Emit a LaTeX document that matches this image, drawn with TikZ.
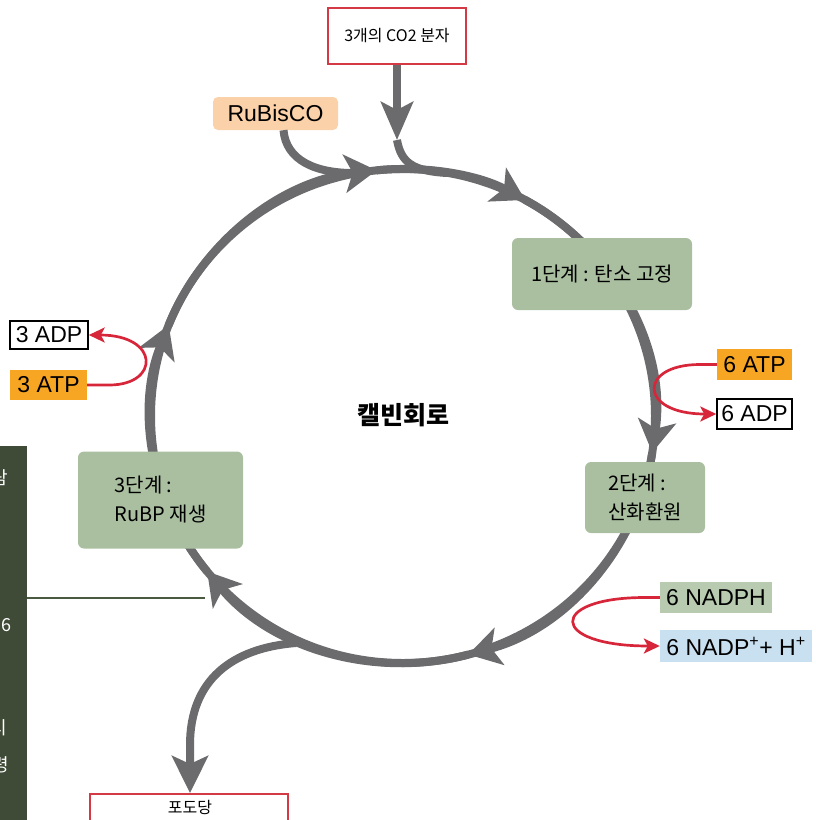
\documentclass[tikz,border=0pt]{standalone}
\usepackage{fontspec}
\setmainfont{Liberation Sans}
\newfontfamily\kr{Noto Sans CJK KR}
\usetikzlibrary{arrows.meta}
\definecolor{cyc}{HTML}{6B6B6E}
\definecolor{stage}{HTML}{A9BFA0}
\definecolor{rd}{HTML}{D7263A}
\definecolor{boxred}{HTML}{D33A45}
\definecolor{atp}{HTML}{F7A623}
\definecolor{peach}{HTML}{FBD1A9}
\definecolor{nadph}{HTML}{B8CAB0}
\definecolor{nadp}{HTML}{C9E0F0}
\definecolor{panel}{HTML}{3F4A37}
\definecolor{panelline}{HTML}{4A5A40}
\begin{document}
\begin{tikzpicture}[x=1pt,y=-1pt,
  cycline/.style={draw=cyc, line width=8pt},
  cycarrow/.style={cycline, -{Stealth[length=32pt,width=38pt,inset=8pt]}},
  bigarrow/.style={cycline, -{Stealth[length=37pt,width=36pt,inset=8pt]}},
  stagebox/.style={fill=stage, rounded corners=6pt, inner sep=0pt, align=left,
    font=\kr\fontsize{20}{29}\selectfont},
  redarrow/.style={draw=rd, line width=2.7pt, -{Stealth[length=16pt,width=15pt,inset=4pt]}},
  chembox/.style={inner sep=0pt, font=\fontsize{23}{26}\selectfont},
  outbox/.style={draw=boxred, line width=2pt, fill=white, inner sep=0pt},
  panelchar/.style={text=white, inner sep=0pt, anchor=east, font=\kr\fontsize{18}{22}\selectfont}
]
\useasboundingbox (0,0) rectangle (815,820);

% left panel fragment
\fill[panel] (0,446) rectangle (27,820);
\begin{scope}
  \clip (0,446) rectangle (27,820);
  \node[panelchar] (p1) at (8,478) {람};
  \node[panelchar] (p2) at (12,625) {6};
  \node[panelchar] (p3) at (7,728) {시};
  \node[panelchar] (p4) at (9,765) {령};
\end{scope}
\coordinate (pl) at (27,598);
\coordinate (pr) at (205,598);

% cycle
\draw[cycline] (403,416) ellipse[x radius=252, y radius=247];
\draw[cycarrow] (403,416) ++(201.6:252 and 247) arc[start angle=201.6, end angle=264, x radius=252, y radius=247];
\draw[cycarrow] (403,416) ++(264:252 and 247) arc[start angle=264, end angle=299, x radius=252, y radius=247];
\draw[cycarrow] (403,416) ++(299:252 and 247) arc[start angle=299, end angle=368.5, x radius=252, y radius=247];
\draw[cycarrow] (403,416) ++(368.5:252 and 247) arc[start angle=368.5, end angle=435, x radius=252, y radius=247];
\draw[cycarrow] (403,416) ++(435:252 and 247) arc[start angle=435, end angle=501, x radius=252, y radius=247];
\draw[cycarrow] (403,416) ++(501:252 and 247) arc[start angle=501, end angle=561.6, x radius=252, y radius=247];

\draw[draw=panelline, line width=1.5pt] (pl) -- (pr);

% top inputs
\node[outbox, minimum width=138pt, minimum height=56pt, font=\kr\fontsize{16}{19}\selectfont] (co2) at (397,36) {3개의 CO2 분자};
\coordinate (co2tip) at (397,140);
\coordinate (co2join) at (447,173);
\draw[cycline, -{Stealth[length=38pt,width=32pt,inset=8pt]}] (co2.south) -- (co2tip);
\draw[cycline] (co2tip) .. controls (401,162) and (412,171) .. (co2join);

\node[chembox, fill=peach, rounded corners=5pt, minimum width=125pt, minimum height=33pt] (rubisco) at (275.5,113.5) {RuBisCO};
\coordinate (rubjoin) at (358,173);
\draw[cycline] ([xshift=8pt]rubisco.south) .. controls (286,160) and (315,174) .. (rubjoin);

% glucose
\node[outbox, minimum width=198pt, minimum height=44pt, anchor=north] (glubox) at (189,793) {};
\node[font=\kr\fontsize{16}{19}\selectfont, inner sep=0pt] (glu) at (190,807) {포도당};
\coordinate (gstart) at (296,643);
\draw[bigarrow] (gstart) .. controls (232,648) and (190,680) .. (190,745) -- (glubox.north -| 190,0);

% stages
\node[stagebox, minimum width=180pt, minimum height=72pt] (s1) at (602,274) {1단계 : 탄소 고정};
\node[stagebox, minimum width=120pt, minimum height=71pt] (s2) at (645,497.5) {2단계 :\\산화환원};
\node[stagebox, minimum width=165pt, minimum height=97pt] (s3) at (160.5,500) {3단계 :\\RuBP 재생};

\node[font=\kr\bfseries\fontsize{25}{29}\selectfont, inner sep=0pt] (calvin) at (403,415) {캘빈회로};

% ATP / ADP left
\node[chembox, draw=black, line width=1.5pt, fill=white, minimum width=78pt, minimum height=28pt] (adp3) at (49,335) {3 ADP};
\node[chembox, fill=atp, minimum width=77pt, minimum height=30pt] (atp3) at (48.5,385) {3 ATP};
\draw[redarrow] (atp3.east) -- ++(22,0) .. controls (160,385) and (160,335) .. (adp3.east);

% ATP / ADP right
\node[chembox, fill=atp, minimum width=75pt, minimum height=31pt] (atp6) at (754.5,364.5) {6 ATP};
\node[chembox, draw=black, line width=1.5pt, fill=white, minimum width=75pt, minimum height=30pt] (adp6) at (754.5,414) {6 ADP};
\draw[redarrow] (atp6.west) -- ++(-17,0) .. controls (638,364.5) and (638,414) .. (adp6.west);

% NADPH
\node[chembox, fill=nadph, minimum width=112pt, minimum height=31pt] (nadph) at (716,597.5) {6 NADPH};
\node[chembox, fill=nadp, minimum width=152pt, minimum height=32pt] (nadp) at (736,646) {6 NADP\textsuperscript{+}+ H\textsuperscript{+}};
\draw[redarrow] (nadph.west) -- ++(-15,0) .. controls (548,597.5) and (548,646) .. (nadp.west);
\end{tikzpicture}
\end{document}
